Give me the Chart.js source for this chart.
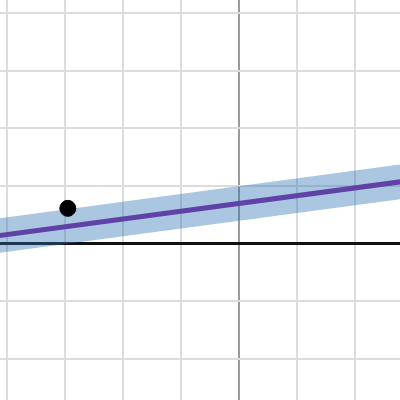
<!DOCTYPE html>
<html>
<head>
<meta charset="utf-8">
<script src="https://cdn.jsdelivr.net/npm/chart.js@4/dist/chart.umd.min.js"></script>
<style>
  html, body { margin: 0; padding: 0; background: #fff; }
  #wrap { width: 400px; height: 400px; }
</style>
</head>
<body>
<div id="wrap"><canvas id="chart"></canvas></div>
<script>
// view window (graph units)
const xRange = [-4.12, 2.78];
const yRange = [-2.72, 4.23];

// fitted line, read at the two ends
const lineX = [-4.2, 2.9];
const lineY = [0.127, 1.086];
// shaded band around it
const bandUpper = [0.427, 1.386];
const bandLower = [-0.173, 0.786];
// horizontal black line y = 0
const baseY = [0, 0];
// the single data point
const pointX = [-2.95];
const pointY = [0.61];

const toXY = (xs, ys) => xs.map((x, i) => ({ x: x, y: ys[i] }));

const gridColor = (c) => c.tick && c.tick.value === 0 ? '#9a9a9a' : '#dcdcdc';

const ctx = document.getElementById('chart').getContext('2d');
new Chart(ctx, {
  type: 'scatter',
  data: {
    datasets: [
      {
        label: 'point',
        data: toXY(pointX, pointY),
        backgroundColor: '#000',
        borderColor: '#000',
        pointRadius: 8,
        showLine: false,
        order: 0
      },
      {
        label: 'fit',
        data: toXY(lineX, lineY),
        borderColor: '#6042a6',
        borderWidth: 5,
        pointRadius: 0,
        showLine: true,
        order: 1
      },
      {
        label: 'upper',
        data: toXY(lineX, bandUpper),
        borderWidth: 0,
        borderColor: 'rgba(0,0,0,0)',
        backgroundColor: 'rgba(45,112,179,0.4)',
        pointRadius: 0,
        showLine: true,
        fill: '+1',
        order: 2
      },
      {
        label: 'lower',
        data: toXY(lineX, bandLower),
        borderWidth: 0,
        borderColor: 'rgba(0,0,0,0)',
        pointRadius: 0,
        showLine: true,
        fill: false,
        order: 3
      },
      {
        label: 'base',
        data: toXY(lineX, baseY),
        borderColor: '#111',
        borderWidth: 3,
        pointRadius: 0,
        showLine: true,
        order: 4
      }
    ]
  },
  options: {
    responsive: true,
    maintainAspectRatio: false,
    animation: false,
    layout: { padding: 0, autoPadding: false },
    plugins: {
      legend: { display: false },
      tooltip: { enabled: false }
    },
    scales: {
      x: {
        type: 'linear',
        min: xRange[0],
        max: xRange[1],
        border: { display: false },
        grid: { color: gridColor, lineWidth: 2, drawTicks: false },
        ticks: { display: false, stepSize: 1, includeBounds: false },
        afterFit: (s) => { s.height = 0; }
      },
      y: {
        type: 'linear',
        min: yRange[0],
        max: yRange[1],
        border: { display: false },
        grid: { color: gridColor, lineWidth: 2, drawTicks: false },
        ticks: { display: false, stepSize: 1, includeBounds: false },
        afterFit: (s) => { s.width = 0; }
      }
    }
  }
});
</script>
</body>
</html>
